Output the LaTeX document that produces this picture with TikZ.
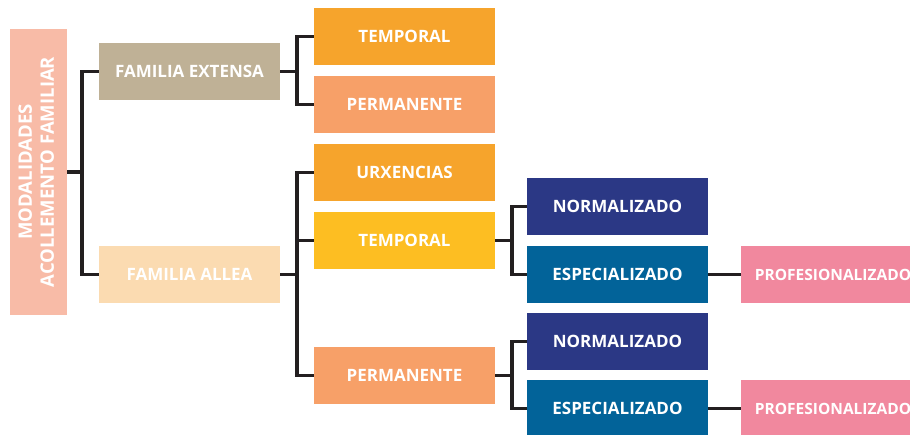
\documentclass[tikz,border=0pt]{standalone}
\usepackage{fontspec}
\setmainfont{Open Sans}
\usepackage{graphicx}
\definecolor{rootc}{HTML}{F8BBA7}
\definecolor{extc}{HTML}{BFB196}
\definecolor{alleac}{HTML}{FBDBB1}
\definecolor{tempc}{HTML}{F6A42C}
\definecolor{permc}{HTML}{F7A068}
\definecolor{yelc}{HTML}{FDBE22}
\definecolor{normc}{HTML}{2B3885}
\definecolor{espc}{HTML}{026399}
\definecolor{profc}{HTML}{F1889E}
\definecolor{linec}{HTML}{231F20}
\begin{document}
\begin{tikzpicture}[x=1pt,y=1pt,
  box/.style={rectangle,minimum width=181,minimum height=57,inner sep=0pt,
    text=white,font=\fontsize{17}{21}\selectfont\bfseries},
  link/.style={draw=linec,line width=3.8pt}]
  \useasboundingbox (0,0) rectangle (910,-435);
  \clip (0,0) rectangle (910,-435);
  \node[box,fill=rootc,minimum width=57,minimum height=286] (root) at (38.5,-172)
    {\rotatebox{90}{\fontsize{18.5}{22}\selectfont\begin{tabular}{@{}c@{}}MODALIDADES\\ACOLLEMENTO FAMILIAR\end{tabular}}};
  \node[box,fill=extc] (ext) at (189.5,-71.5) {FAMILIA EXTENSA};
  \node[box,fill=alleac] (allea) at (189.5,-274.5) {FAMILIA ALLEA};
  \node[box,fill=tempc] (tmpa) at (404.5,-36.5) {TEMPORAL};
  \node[box,fill=permc] (perma) at (404.5,-104.5) {PERMANENTE};
  \node[box,fill=tempc] (urx) at (404.5,-172.5) {URXENCIAS};
  \node[box,fill=yelc] (tmpb) at (404.5,-240.5) {TEMPORAL};
  \node[box,fill=permc] (permb) at (404.5,-375.5) {PERMANENTE};
  \node[box,fill=normc] (norma) at (617.5,-206.5) {NORMALIZADO};
  \node[box,fill=espc] (espa) at (617.5,-274.5) {ESPECIALIZADO};
  \node[box,fill=normc] (normb) at (617.5,-341.5) {NORMALIZADO};
  \node[box,fill=espc] (espb) at (617.5,-408.5) {ESPECIALIZADO};
  \node[box,fill=profc,minimum width=184,font=\fontsize{15.5}{19}\selectfont\bfseries] (profa) at (833,-274.5) {PROFESIONALIZADO};
  \node[box,fill=profc,minimum width=184,font=\fontsize{15.5}{19}\selectfont\bfseries] (profb) at (833,-408.5) {PROFESIONALIZADO};
  \draw[link] (root.east) -- ++(15,0) |- (ext.west);
  \draw[link] (root.east) -- ++(15,0) |- (allea.west);
  \draw[link] (ext.east) -- ++(17,0) |- (tmpa.west);
  \draw[link] (ext.east) -- ++(17,0) |- (perma.west);
  \draw[link] (allea.east) -- ++(17,0) |- (urx.west);
  \draw[link] (allea.east) -- ++(17,0) |- (tmpb.west);
  \draw[link] (allea.east) -- ++(17,0) |- (permb.west);
  \draw[link] (tmpb.east) -- ++(17,0) |- (norma.west);
  \draw[link] (tmpb.east) -- ++(17,0) |- (espa.west);
  \draw[link] (permb.east) -- ++(17,0) |- (normb.west);
  \draw[link] (permb.east) -- ++(17,0) |- (espb.west);
  \draw[link] (espa.east) -- (profa.west);
  \draw[link] (espb.east) -- (profb.west);
\end{tikzpicture}
\end{document}
